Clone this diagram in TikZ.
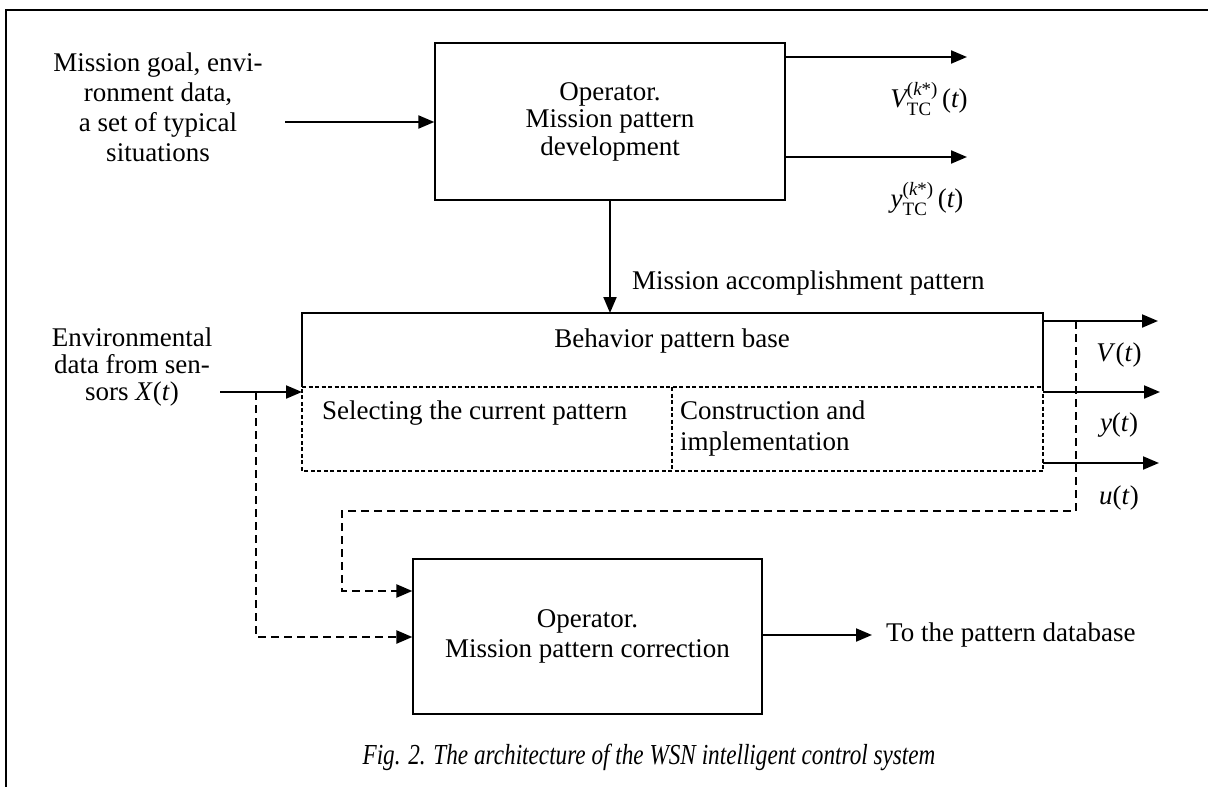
\documentclass[tikz,border=0pt]{standalone}
\usepackage{fontspec}
\usepackage{amsmath}
\setmainfont{Liberation Serif}
\usetikzlibrary{arrows.meta}
\begin{document}
\begin{tikzpicture}[x=1pt,y=-1pt,
  txt/.style={font=\fontsize{27}{30}\selectfont, inner sep=0pt, align=center},
  blk/.style={draw, line width=1.3pt, inner sep=0pt},
  arr/.style={line width=2pt, -{Triangle[length=16pt,width=13pt]}},
  fb/.style={line width=2.4pt, dash pattern=on 8pt off 5pt, -{Triangle[length=16pt,width=13pt]}},
  thindash/.style={line width=1.2pt, dash pattern=on 4pt off 2.5pt},
  solidline/.style={line width=1.3pt}
]
\useasboundingbox (0,0) rectangle (1208,787);
% frame
\draw[line width=2.5pt] (1208,10) -- (6,10) -- (6,787);

% top box
\node[blk, txt, font=\fontsize{27}{27.5}\selectfont, minimum width=350pt, minimum height=157pt] (top) at (610,121.5) {Operator.\\Mission pattern\\development};
\node[txt] (in1) at (158,107) {Mission goal, envi-\\ronment data,\\a set of typical\\situations};
\coordinate (in1s) at (285,122);
\draw[arr] (in1s) -- (in1s -| top.west);

\coordinate (o1) at (967,57);
\coordinate (o2) at (967,157);
\draw[arr] (o1 -| top.east) -- (o1);
\draw[arr] (o2 -| top.east) -- (o2);
\node[txt] (vtc) at (929,99) {$\textit{V}^{\text{(}\textit{k}\text{*)}}_{\text{TC}}\,\text{(}\textit{t}\text{)}$};
\node[txt] (ytc) at (927,199) {$\textit{y}^{\text{(}\textit{k}\text{*)}}_{\text{TC}}\,\text{(}\textit{t}\text{)}$};

% main box
\coordinate (mTL) at (302,313);
\coordinate (mTR) at (1043,313);
\coordinate (mML) at (302,387);
\coordinate (mMR) at (1043,387);
\coordinate (mBL) at (302,471);
\coordinate (mBR) at (1043,471);
\coordinate (mDT) at (672,387);
\coordinate (mDB) at (672,471);
\draw[solidline] (mML) -- (mTL) -- (mTR) -- (mMR);
\draw[thindash] (mML) -- (mMR) -- (mBR) -- (mBL) -- cycle;
\draw[thindash] (mDT) -- (mDB);

\coordinate (dn) at (610,313);
\draw[arr] (top.south) -- (dn);
\node[txt, anchor=west] (map) at (632,283) {Mission accomplishment pattern};

\node[txt] (beh) at (672,341) {Behavior pattern base};
\node[txt, anchor=west] (sel) at (322,413) {Selecting the current pattern};
\node[txt, anchor=west, align=left, font=\fontsize{27}{31}\selectfont] (con) at (680,429) {Construction and\\implementation};

% left input 2
\node[txt, font=\fontsize{27}{27}\selectfont] (in2) at (132,367) {Environmental\\data from sen-\\sors \textit{X}(\textit{t})};
\coordinate (in2s) at (220,392);
\coordinate (in2e) at (302,392);
\draw[arr] (in2s) -- (in2e);

% right outputs
\coordinate (r1s) at (1043,321);
\coordinate (r1e) at (1158,321);
\coordinate (r2s) at (1043,392);
\coordinate (r2e) at (1160,392);
\coordinate (r3s) at (1043,463);
\coordinate (r3e) at (1159,463);
\draw[arr] (r1s) -- (r1e);
\draw[arr] (r2s) -- (r2e);
\draw[arr] (r3s) -- (r3e);
\node[txt] (vl) at (1119,355) {\textit{V}(\textit{t})};
\node[txt] (yl) at (1119,425) {\textit{y}(\textit{t})};
\node[txt] (ul) at (1119,498) {\textit{u}(\textit{t})};

% lower box
\node[blk, txt, font=\fontsize{27}{30}\selectfont, minimum width=349pt, minimum height=155pt] (low) at (587.5,636.5) {Operator.\\Mission pattern correction};

% feedback dashed
\coordinate (j1) at (1076,321);
\coordinate (f1) at (1076,511);
\coordinate (f2) at (342,511);
\coordinate (f3) at (342,591);
\draw[fb] (j1) -- (f1) -- (f2) -- (f3) -- (f3 -| low.west);

\coordinate (j2) at (256,392);
\coordinate (g1) at (256,637);
\draw[fb] (j2) -- (g1) -- (g1 -| low.west);

% lower output
\coordinate (lo) at (872,635);
\draw[arr] (lo -| low.east) -- (lo);
\node[txt, anchor=west] (db) at (886,635) {To the pattern database};

% caption
\node[txt, font=\itshape\fontsize{29}{30}\selectfont] (cap) at (649,757) {\scalebox{0.80}[1]{Fig. 2. The architecture of the WSN intelligent control system}};
\end{tikzpicture}
\end{document}
